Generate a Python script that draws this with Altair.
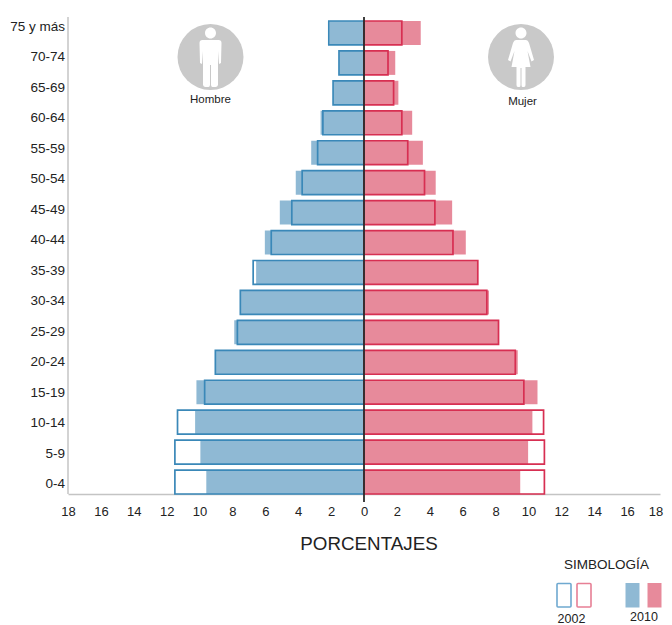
import altair as alt
import pandas as pd

ages = ["75 y más", "70-74", "65-69", "60-64", "55-59", "50-54", "45-49", "40-44",
        "35-39", "30-34", "25-29", "20-24", "15-19", "10-14", "5-9", "0-4"]
male_2002 = [2.14, 1.52, 1.88, 2.5, 2.82, 3.76, 4.39, 5.64, 6.74, 7.52, 7.7, 9.04, 9.69, 11.34, 11.5, 11.5]
male_2010 = [2.1, 1.5, 1.85, 2.64, 3.21, 4.15, 5.12, 6.03, 6.56, 7.5, 7.89, 9.0, 10.19, 10.27, 9.95, 9.59]
female_2002 = [2.3, 1.46, 1.8, 2.3, 2.66, 3.68, 4.31, 5.41, 6.92, 7.47, 8.18, 9.2, 9.72, 10.92, 10.97, 10.97]
female_2010 = [3.45, 1.9, 2.09, 2.93, 3.58, 4.36, 5.36, 6.19, 6.92, 7.6, 8.18, 9.35, 10.55, 10.24, 9.98, 9.5]
ticks = list(range(-18, 17, 2))  # the last label, 18, sits just inside the page edge as a text mark

FONT = "Liberation Sans"
BLUE_FILL, BLUE_LINE, RED_FILL, RED_LINE = "#8fb9d4", "#3a88b8", "#e78a9b", "#d72f52"
OX, OY = 68, 17  # plot origin on the page

df = pd.DataFrame({"age": ages, "base": 0,
                   "m02": [-v for v in male_2002], "m10": [-v for v in male_2010],
                   "f02": female_2002, "f10": female_2010})
one = pd.DataFrame({"k": [0], "zero": [0]})

y_band = alt.Y("age:N", sort=ages, title=None, axis=None,
               scale=alt.Scale(domain=ages, range=[4, 477], paddingInner=0.2, paddingOuter=0))
x_scale = alt.Scale(domain=[-18, 18], nice=False, zero=False)
x_axis = alt.Axis(values=ticks, labelExpr="abs(datum.value)", ticks=False, grid=False, title=None,
                  domainColor="#c4c4c4", domainWidth=1.5, labelFont=FONT, labelFontSize=13,
                  labelColor="#222222", labelPadding=11, labelFlush=False, labelOverlap=False)


def bars(field, fill=None, stroke=None):
    if fill:
        mark = alt.Chart(df).mark_bar(fill=fill, strokeWidth=0)
    else:
        mark = alt.Chart(df).mark_bar(fillOpacity=0, stroke=stroke, strokeWidth=1.7)
    return mark.encode(
        x=alt.X(f"{field}:Q", scale=x_scale, title=None, axis=x_axis),
        x2="base:Q",
        y=y_band,
    )


def pos(x, y):
    return {"x": alt.value(x - OX), "y": alt.value(y - OY)}


def label(text, x, y, size, color="#222222"):
    return alt.Chart(one).mark_text(text=text, font=FONT, fontSize=size, color=color,
                                    align="center", baseline="middle").encode(**pos(x, y))


def rect(x0, x1, y0, y1, **style):
    return alt.Chart(one).mark_rect(**style).encode(
        x=alt.value(x0 - OX), x2=alt.value(x1 - OX), y=alt.value(y0 - OY), y2=alt.value(y1 - OY))


age_labels = alt.Chart(df).mark_text(font=FONT, fontSize=13.5, color="#222222", align="right",
                                     baseline="middle").encode(
    x=alt.value(-3),
    y=alt.Y("age:N", sort=ages, axis=None, scale=alt.Scale(type="point", domain=ages, range=[10, 467], padding=0)),
    text="age:N",
)

left_line = alt.Chart(one).mark_rule(color="#c4c4c4", strokeWidth=1.5).encode(
    x=alt.value(0), y=alt.value(0), y2=alt.value(477))

center = alt.Chart(one).mark_rule(color="#2b2b2b", strokeWidth=1.8).encode(
    x=alt.X("zero:Q", scale=x_scale, title=None, axis=x_axis), y=alt.value(0), y2=alt.value(485))

HEAD = "M-5.5 -24a5.5 5.5 0 1 0 11 0a5.5 5.5 0 1 0 -11 0Z"
MAN = HEAD + ("M-8 -17L8 -17Q11 -17 11 -14L10.5 6L8.5 7L7.5 -6L7.5 28Q7 30 5 30L2 30Q0.7 30 0.5 28L0.5 8"
              "L-0.5 8L-0.5 28Q-0.7 30 -2 30L-5 30Q-7 30 -7.5 28L-7.5 -6L-8.5 7L-10.5 6L-11 -14Q-11 -17 -8 -17Z")
WOMAN = HEAD + ("M-5 -17L5 -17Q7 -17 8 -14L13 3L10.5 4.5L6.5 -6L9.5 10L4.5 10L4.5 28Q4.5 30 3 30L1.5 30Q0.5 30 0.5 28L0.5 11"
                "L-0.5 11L-0.5 28Q-0.5 30 -1.5 30L-3 30Q-4.5 30 -4.5 28L-4.5 10L-9.5 10L-6.5 -6L-10.5 4.5L-13 3L-8 -14Q-7 -17 -5 -17Z")


def icon(x, y, path):
    disc = alt.Chart(one).mark_point(shape="circle", filled=True, size=66 * 66, color="#c9c9c9",
                                     opacity=1, strokeWidth=0).encode(**pos(x, y))
    fig = alt.Chart(one).mark_point(shape=path, filled=True, size=4, color="#ffffff",
                                    opacity=1, strokeWidth=0).encode(**pos(x, y))
    return [disc, fig]


layers = [
    left_line,
    bars("m10", fill=BLUE_FILL), bars("f10", fill=RED_FILL),
    bars("m02", stroke=BLUE_LINE), bars("f02", stroke=RED_LINE),
    center, age_labels,
    *icon(210.5, 57, MAN), *icon(521, 57, WOMAN),
    label("Hombre", 210.5, 100, 11.5), label("Mujer", 522.5, 102, 11.5),
    label("18", 656, 511.5, 13),
    label("PORCENTAJES", 369, 544, 18.8),
    label("SIMBOLOGÍA", 606.5, 565, 13.5),
    label("2002", 571.5, 619, 12.5), label("2010", 644, 617, 12.5),
    rect(557, 571, 583.5, 607, fillOpacity=0, stroke="#6fa9d0", strokeWidth=1.6, cornerRadius=1),
    rect(577, 591, 583.5, 607, fillOpacity=0, stroke="#e77f95", strokeWidth=1.6, cornerRadius=1),
    rect(625.5, 639.5, 583, 607.5, fill=BLUE_FILL),
    rect(647.5, 661.5, 583, 607.5, fill=RED_FILL),
]

chart = (
    alt.layer(*layers)
    .resolve_scale(y="independent")
    .properties(width=592, height=477, padding={"left": 60, "top": 9, "right": 4, "bottom": 131},
                autosize=alt.AutoSizeParams(type="none"), background="#ffffff")
    .configure_view(stroke=None)
)
chart.save("out.html", embed_options={"renderer": "svg", "actions": False})
